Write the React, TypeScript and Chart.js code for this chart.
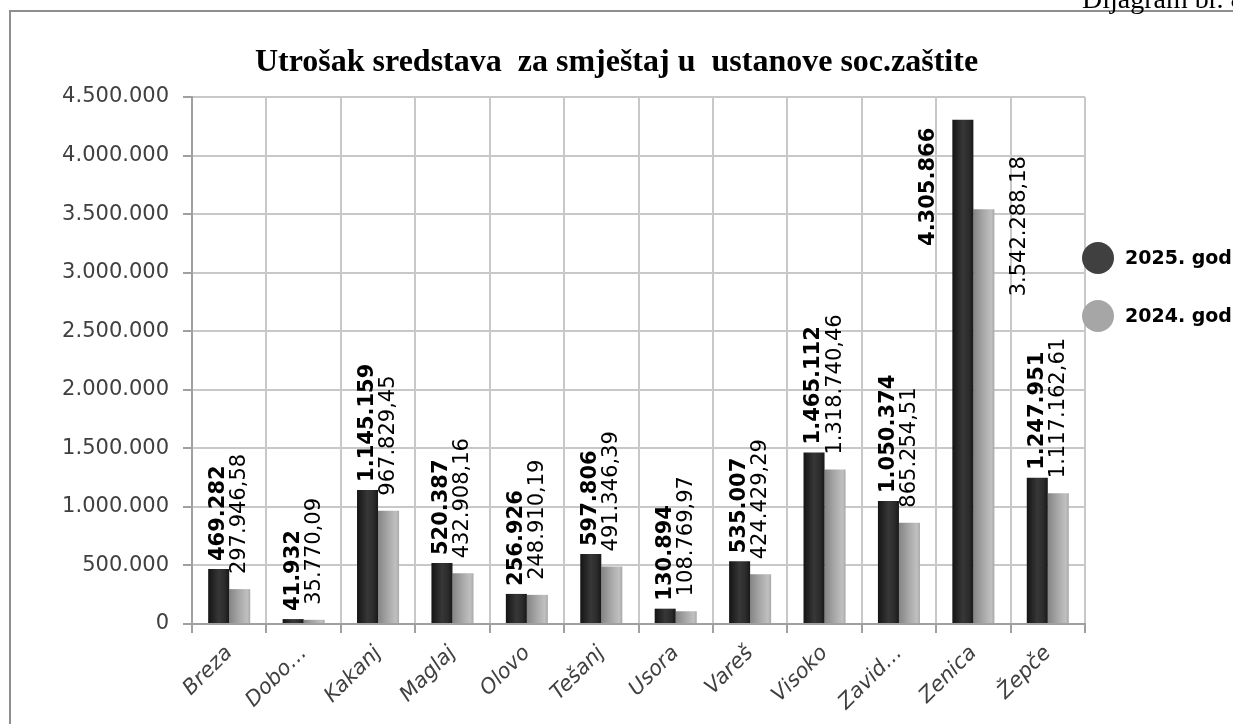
import React, { useEffect, useRef } from "react";
import { Chart, registerables } from "chart.js";

Chart.register(...registerables);

// ---- data ----
const categories = ["Breza", "Dobo…", "Kakanj", "Maglaj", "Olovo", "Tešanj", "Usora", "Vareš", "Visoko", "Zavid…", "Zenica", "Žepče"];
const values2025 = [469282, 41932, 1145159, 520387, 256926, 597806, 130894, 535007, 1465112, 1050374, 4305866, 1247951];
const values2024 = [297946.58, 35770.09, 967829.45, 432908.16, 248910.19, 491346.39, 108769.97, 424429.29, 1318740.46, 865254.51, 3542288.18, 1117162.61];
const seriesLabels = ["2025. god", "2024. god"];
const yMin = 0;
const yMax = 4500000;
const yStep = 500000;
const chartTitle = "Utrošak sredstava  za smještaj u  ustanove soc.zaštite";
const diagramLabel = "Dijagram br. 8";

// ---- style ----
const W = 1233;
const H = 724;
const CATEGORY_PCT = 0.565;
const BAR_PCT = 1;
const darkStops: [number, string][] = [[0, "#141414"], [0.5, "#373737"], [0.78, "#2c2c2c"], [1, "#181818"]];
const lightStops: [number, string][] = [[0, "#848484"], [0.45, "#a6a6a6"], [0.85, "#c0c0c0"], [1, "#a9a9a9"]];
const legendColors = ["#404040", "#a6a6a6"];
const GRID = "#c8c8c8";
const AXIS = "#a0a0a0";

function groupThousands(s: string) {
  return s.replace(/\B(?=(\d{3})+(?!\d))/g, ".");
}
function fmtInt(v: number) {
  return groupThousands(Math.round(v).toString());
}
function fmtDec(v: number) {
  const [i, d] = v.toFixed(2).split(".");
  return groupThousands(i) + "," + d;
}

const makeBarFill = (stops: [number, string][]) => (c: any) => {
  const chart = c.chart;
  const xs = chart.scales && chart.scales.x;
  if (c.type !== "data" || !xs || !xs.width) return stops[1][1];
  const catW = xs.width / chart.data.labels.length;
  const bw = (catW * CATEGORY_PCT * BAR_PCT) / 2;
  const cx = xs.getPixelForValue(c.dataIndex);
  const left = c.datasetIndex === 0 ? cx - bw : cx;
  const g = chart.ctx.createLinearGradient(left, 0, left + bw, 0);
  stops.forEach(([o, col]) => g.addColorStop(o, col));
  return g;
};

const framePlugin = {
  id: "frame",
  beforeDraw(chart: any) {
    const ctx = chart.ctx;
    ctx.save();
    ctx.strokeStyle = "#8e8e8e";
    ctx.lineWidth = 2;
    ctx.beginPath();
    ctx.moveTo(10, H + 5);
    ctx.lineTo(10, 11);
    ctx.lineTo(W + 5, 11);
    ctx.stroke();
    ctx.fillStyle = "#000";
    ctx.font = '28px "Liberation Serif"';
    ctx.textAlign = "left";
    ctx.textBaseline = "alphabetic";
    ctx.fillText(diagramLabel, 1082, 8);
    ctx.restore();
  },
};

const valueLabelPlugin = {
  id: "valueLabels",
  afterDatasetsDraw(chart: any) {
    const { ctx, chartArea } = chart;
    chart.data.datasets.forEach((ds: any, di: number) => {
      const meta = chart.getDatasetMeta(di);
      meta.data.forEach((bar: any, i: number) => {
        const v = ds.data[i];
        const text = di === 0 ? fmtInt(v) : fmtDec(v);
        ctx.save();
        ctx.font = `${di === 0 ? "bold " : ""}21px "DejaVu Sans"`;
        ctx.fillStyle = "#000";
        const w = ctx.measureText(text).width;
        const { x, y, width } = bar.getProps(["x", "y", "width"], true);
        const gap = di === 0 ? 8 : 15;
        let ax = x;
        let ay = y - gap;
        let align: CanvasTextAlign = "left";
        if (ay - w < chartArea.top) {
          if (di === 0) {
            ax = x - width / 2 - 24;
            ay = y + 8;
            align = "right";
          } else {
            ax = x + width / 2 + 25;
            ay = y + 17;
            align = "center";
          }
        }
        ctx.translate(ax, ay);
        ctx.rotate(-Math.PI / 2);
        ctx.textAlign = align;
        ctx.textBaseline = "middle";
        ctx.fillText(text, 0, 0);
        ctx.restore();
      });
    });
  },
};

const legendPlugin = {
  id: "sideLegend",
  afterDraw(chart: any) {
    const { ctx, chartArea } = chart;
    chart.data.datasets.forEach((ds: any, i: number) => {
      const cy = chartArea.top + 161 + i * 58;
      const cx = chartArea.right + 13;
      ctx.save();
      ctx.beginPath();
      ctx.arc(cx, cy, 16, 0, Math.PI * 2);
      ctx.fillStyle = ds.legendColor;
      ctx.fill();
      ctx.font = 'bold 19px "DejaVu Sans"';
      ctx.fillStyle = "#000";
      ctx.textAlign = "left";
      ctx.textBaseline = "middle";
      ctx.fillText(ds.label, chartArea.right + 40, cy + 1);
      ctx.restore();
    });
  },
};

export default function App() {
  const ref = useRef<HTMLCanvasElement | null>(null);

  useEffect(() => {
    if (!ref.current) return;
    const chart = new Chart(ref.current, {
      type: "bar",
      data: {
        labels: categories,
        datasets: [
          {
            label: seriesLabels[0],
            data: values2025,
            backgroundColor: makeBarFill(darkStops),
            legendColor: legendColors[0],
            categoryPercentage: CATEGORY_PCT,
            barPercentage: BAR_PCT,
            borderWidth: 0,
          } as any,
          {
            label: seriesLabels[1],
            data: values2024,
            backgroundColor: makeBarFill(lightStops),
            legendColor: legendColors[1],
            categoryPercentage: CATEGORY_PCT,
            barPercentage: BAR_PCT,
            borderWidth: 0,
          } as any,
        ],
      },
      options: {
        responsive: false,
        animation: false,
        events: [],
        layout: { padding: { left: 0, right: 0, top: 44, bottom: 0 } },
        plugins: {
          legend: { display: false },
          tooltip: { enabled: false },
          title: {
            display: true,
            text: chartTitle,
            color: "#000",
            font: { family: "Liberation Serif", size: 32, weight: "bold", lineHeight: 1.2 },
            padding: { top: 0, bottom: 14.6 },
          },
        },
        scales: {
          x: {
            grid: { color: GRID, lineWidth: 2, offset: true, tickColor: AXIS, tickLength: 9, drawTicks: true },
            border: { color: AXIS, width: 2 },
            ticks: {
              font: { family: "DejaVu Sans", size: 21, style: "italic" },
              color: "#404040",
              maxRotation: 45,
              minRotation: 45,
              autoSkip: false,
              padding: 8,
            },
            afterFit: (s: any) => {
              s.height = 100;
            },
          },
          y: {
            min: yMin,
            max: yMax,
            ticks: {
              stepSize: yStep,
              callback: (v: any) => fmtInt(Number(v)),
              font: { family: "DejaVu Sans", size: 21 },
              color: "#404040",
              padding: 14,
            },
            grid: { color: GRID, lineWidth: 2, tickColor: AXIS, tickLength: 9 },
            border: { color: AXIS, width: 2 },
            afterFit: (s: any) => {
              s.width = 192;
            },
          },
          legendSpace: {
            type: "linear",
            position: "right",
            display: true,
            ticks: { display: false },
            grid: { display: false, drawTicks: false },
            border: { display: false },
            afterFit: (s: any) => {
              s.width = 148;
            },
          },
        },
      } as any,
      plugins: [framePlugin, valueLabelPlugin, legendPlugin],
    });
    return () => chart.destroy();
  }, []);

  return (
    <div style={{ position: "fixed", left: 0, top: 0, width: W, height: H, overflow: "hidden", background: "#fff" }}>
      <canvas ref={ref} width={W} height={H} style={{ display: "block", width: W, height: H }} />
    </div>
  );
}
